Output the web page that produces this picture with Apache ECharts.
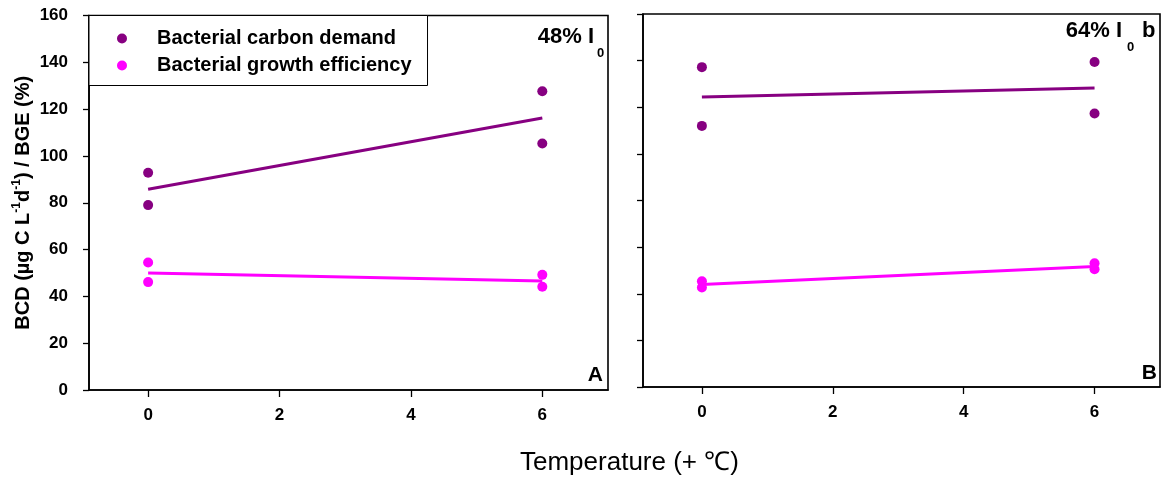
<!DOCTYPE html>
<html>
<head>
<meta charset="utf-8">
<script src="https://cdn.jsdelivr.net/npm/echarts@6/dist/echarts.min.js"></script>
<style>
html,body{margin:0;padding:0;background:#fff;}
#chart{width:1161px;height:477px;}
</style>
</head>
<body>
<div id="chart"></div>
<script>
// ---- data ----
const seriesNames = ['Bacterial carbon demand', 'Bacterial growth efficiency'];
const xTicks = [0, 2, 4, 6];
const yTicks = [0, 20, 40, 60, 80, 100, 120, 140, 160];
const pointTemps = [0, 0, 6, 6];
const fitTemps = [0, 6];
// panel A (48% I0)
const bcdA = [92.8, 79.0, 127.6, 105.3];
const bgeA = [54.5, 46.1, 49.2, 44.1];
const bcdFitA = [85.8, 116.2];
const bgeFitA = [50.0, 46.6];
// panel B (64% I0)
const bcdB = [137.2, 112.0, 139.4, 117.3];
const bgeB = [45.4, 42.7, 53.1, 50.5];
const bcdFitB = [124.4, 128.3];
const bgeFitB = [44.0, 51.7];

const FONT = 'Arial, "Liberation Sans", sans-serif';
const C_BCD = '#870081';
const C_BGE = '#FF00FF';

function pairs(xs, ys) { return xs.map((x, i) => [x, ys[i]]); }

function xAxisCfg(gridIndex) {
  return {
    type: 'value', gridIndex, min: -0.9, max: 7,
    axisLine: { show: true, onZero: false, lineStyle: { color: '#000', width: 1.6 } },
    axisTick: { show: true, customValues: xTicks, length: 7, inside: false, lineStyle: { color: '#000', width: 1.3 } },
    axisLabel: { customValues: xTicks, margin: 17, color: '#000', fontSize: 17, fontWeight: 'bold', fontFamily: FONT },
    splitLine: { show: false }
  };
}
function yAxisCfg(gridIndex, showLabels) {
  const cfg = {
    type: 'value', gridIndex, min: 0, max: 160, interval: 20,
    axisLine: { show: true, onZero: false, lineStyle: { color: '#000', width: 1.6 } },
    axisTick: { show: true, length: 6, inside: false, lineStyle: { color: '#000', width: 1.3 } },
    axisLabel: { show: showLabels, margin: 21, color: '#000', fontSize: 17, fontWeight: 'bold', fontFamily: FONT,
      customValues: yTicks },
    splitLine: { show: false }
  };
  if (showLabels) {
    cfg.name = '{m|BCD (µg C L}{s|-1}{m|d}{s|-1}{m|) / BGE (%)}';
    cfg.nameLocation = 'middle';
    cfg.nameGap = 54;
    cfg.nameTextStyle = {
      rich: {
        m: { fontSize: 20, fontWeight: 'bold', fontFamily: FONT, color: '#000', lineHeight: 24 },
        s: { fontSize: 12, fontWeight: 'bold', fontFamily: FONT, color: '#000', lineHeight: 12, verticalAlign: 'top' }
      }
    };
  }
  return cfg;
}
function scatter(name, idx, xs, ys, color) {
  return { type: 'scatter', name, xAxisIndex: idx, yAxisIndex: idx, data: pairs(xs, ys),
    symbol: 'circle', symbolSize: 10, itemStyle: { color, opacity: 1 }, z: 3 };
}
function fit(idx, ys, color) {
  return { type: 'line', xAxisIndex: idx, yAxisIndex: idx, data: pairs(fitTemps, ys),
    showSymbol: false, symbol: 'none', lineStyle: { color, width: 3 }, z: 2, silent: true };
}

const chart = echarts.init(document.getElementById('chart'), null, { renderer: 'canvas' });
chart.setOption({
  animation: false,
  backgroundColor: '#fff',
  title: {
    text: 'Temperature (+ ℃)', left: 520, top: 450, padding: 0,
    textStyle: { fontSize: 26, fontWeight: 'normal', fontFamily: FONT, color: '#000' }
  },
  legend: {
    data: seriesNames, orient: 'vertical', left: 89, top: 15.5,
    padding: [13, 16, 10, 28], itemGap: 7, itemWidth: 10, itemHeight: 10, icon: 'circle',
    borderColor: '#000', borderWidth: 1, backgroundColor: '#fff',
    textStyle: { fontSize: 20, fontWeight: 'bold', fontFamily: FONT, color: '#000', lineHeight: 20, padding: [0, 0, 0, 25] },
    selectedMode: false
  },
  grid: [
    { left: 89, top: 15.5, width: 519, height: 374.5, show: true, borderColor: '#000', borderWidth: 1.6, containLabel: false },
    { left: 643, top: 14, width: 517, height: 373, show: true, borderColor: '#000', borderWidth: 1.6, containLabel: false }
  ],
  xAxis: [xAxisCfg(0), xAxisCfg(1)],
  yAxis: [yAxisCfg(0, true), yAxisCfg(1, false)],
  graphic: [
    { type: 'text', x: 594, y: 26, style: { text: '48% I', align: 'right', verticalAlign: 'top', fill: '#000', font: 'bold 22px ' + FONT } },
    { type: 'text', x: 597, y: 47, style: { text: '0', align: 'left', verticalAlign: 'top', fill: '#000', font: 'bold 13px ' + FONT } },
    { type: 'text', x: 1122, y: 20, style: { text: '64% I', align: 'right', verticalAlign: 'top', fill: '#000', font: 'bold 22px ' + FONT } },
    { type: 'text', x: 1127, y: 41, style: { text: '0', align: 'left', verticalAlign: 'top', fill: '#000', font: 'bold 13px ' + FONT } },
    { type: 'text', x: 1142, y: 20, style: { text: 'b', align: 'left', verticalAlign: 'top', fill: '#000', font: 'bold 22px ' + FONT } },
    { type: 'text', x: 603, y: 386, style: { text: 'A', align: 'right', verticalAlign: 'bottom', fill: '#000', font: 'bold 21px ' + FONT } },
    { type: 'text', x: 1157, y: 384, style: { text: 'B', align: 'right', verticalAlign: 'bottom', fill: '#000', font: 'bold 21px ' + FONT } }
  ],
  series: [
    fit(0, bcdFitA, C_BCD), fit(0, bgeFitA, C_BGE),
    scatter(seriesNames[0], 0, pointTemps, bcdA, C_BCD),
    scatter(seriesNames[1], 0, pointTemps, bgeA, C_BGE),
    fit(1, bcdFitB, C_BCD), fit(1, bgeFitB, C_BGE),
    scatter(seriesNames[0], 1, pointTemps, bcdB, C_BCD),
    scatter(seriesNames[1], 1, pointTemps, bgeB, C_BGE)
  ]
});
</script>
</body>
</html>
